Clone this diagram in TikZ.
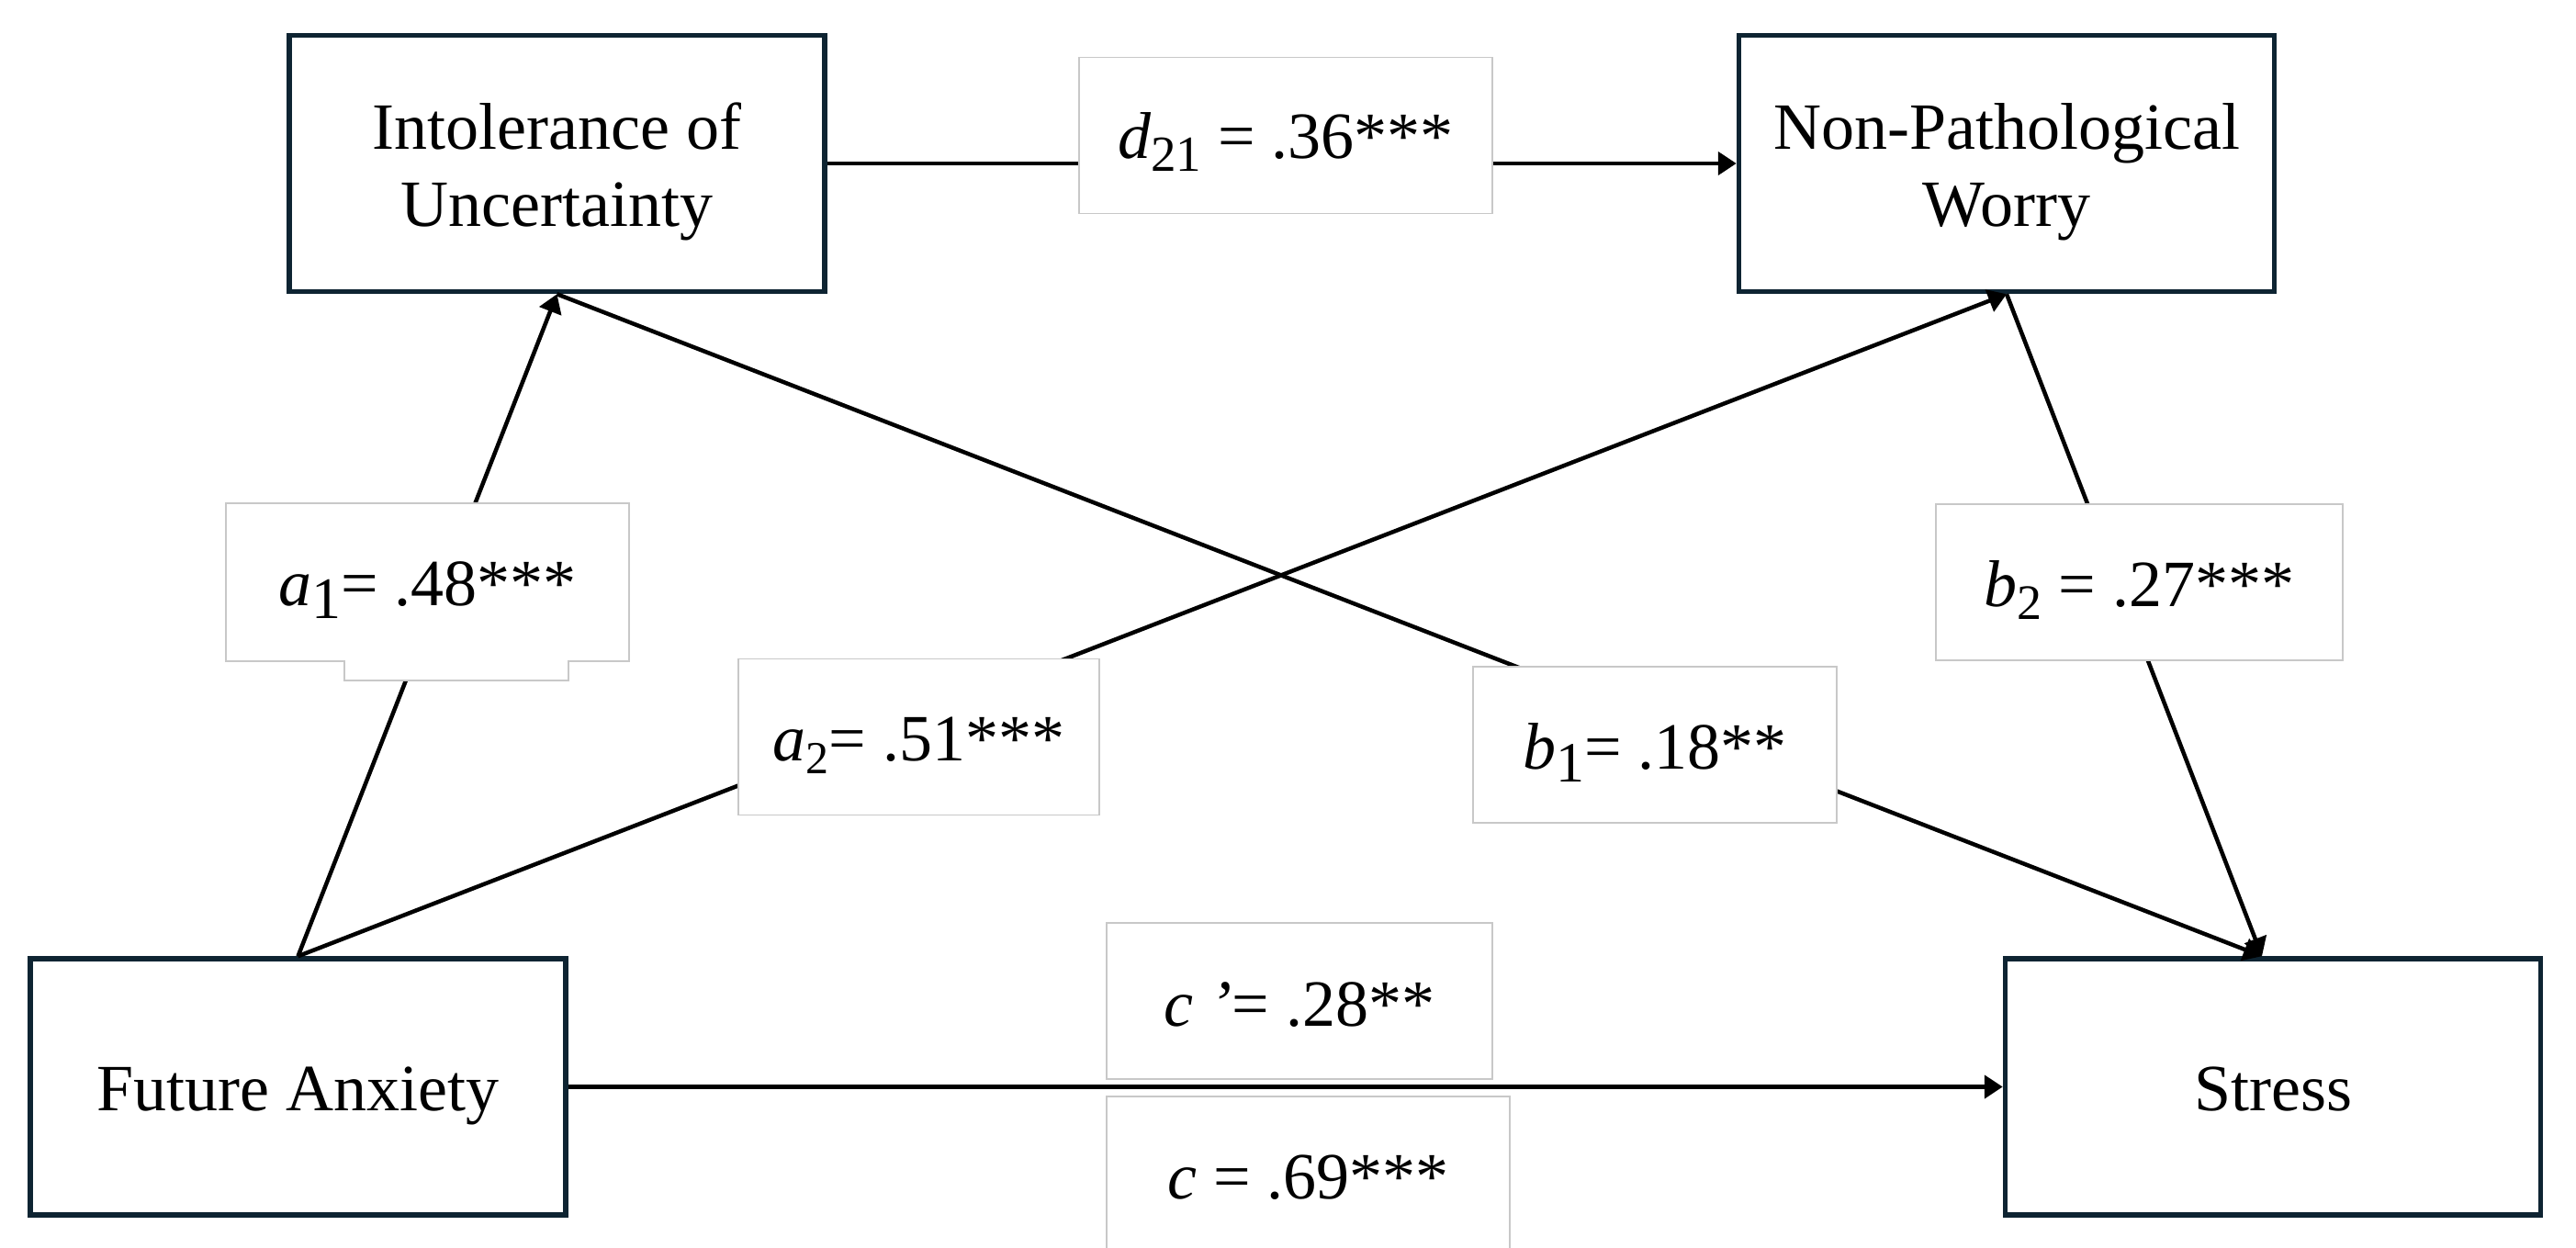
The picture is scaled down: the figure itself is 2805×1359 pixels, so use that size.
\documentclass[tikz,border=0pt]{standalone}
\usepackage{fontspec}
\setmainfont{Liberation Serif}
\usetikzlibrary{arrows.meta,calc}
\definecolor{navy}{RGB}{14,36,50}
\definecolor{lgray}{RGB}{200,200,200}
\newcommand\lsub[2]{\raisebox{-14pt}{\fontsize{#1}{#1}\selectfont #2}}
\begin{document}
\begin{tikzpicture}[x=1pt,y=-1pt,
  mainbox/.style={draw=navy, line width=5.5pt, fill=white, inner sep=0pt,
    minimum width=583pt, minimum height=279pt, align=center,
    font=\fontsize{72pt}{85pt}\selectfont},
  lbl/.style={draw=lgray, line width=1.5pt, fill=white, inner sep=0pt,
    minimum height=170pt, text height=51pt, text depth=0pt,
    font=\fontsize{72pt}{85pt}\selectfont},
  lblshape/.style={draw=lgray, line width=1.5pt, fill=white},
  conn/.style={line width=4.5pt, -{Triangle[length=20pt,width=25pt]}}]
\useasboundingbox[fill=white] (0,0) rectangle (2805,1359);

% main boxes
\node[mainbox, text height=138pt, text depth=0pt] (iu) at (606.5,178) {Intolerance of\\Uncertainty};
\node[mainbox, text height=138pt, text depth=0pt] (npw) at (2185,178) {Non-Pathological\\Worry};
\node[mainbox, text height=51pt, text depth=0pt] (fa) at (324.5,1183.5) {Future Anxiety};
\node[mainbox, text height=51pt, text depth=0pt] (st) at (2475,1183.5) {Stress};

\coordinate (sttop) at ($(st.north)+(-12,0)$);

% connectors
\draw[conn] (iu.east) -- (npw.west);
\draw[conn] (fa.north) -- (iu.south);
\draw[conn] (fa.north) -- (npw.south);
\draw[conn] (iu.south) -- (sttop);
\draw[conn] (npw.south) -- (sttop);
\draw[conn] (fa.east) -- (st.west);

% labels
\node[lbl, minimum width=450pt] (d21) at (1400,147.5) {\textit{d}\lsub{55pt}{21} = .36***};
\path[lblshape] (246,548) -- (685,548) -- (685,720) -- (619,720) -- (619,741)
  -- (375,741) -- (375,720) -- (246,720) -- cycle;
\node[lbl, draw=none, fill=none, minimum width=437pt, text height=50pt] (a1) at (465.5,634) {\textit{a}\lsub{64pt}{1}= .48***};
\node[lbl, minimum width=393pt] (a2) at (1000.5,802.5) {\textit{a}\lsub{50pt}{2}= .51***};
\node[lbl, minimum width=396pt, text height=52pt] (b1) at (1802,811) {\textit{b}\lsub{62pt}{1}= .18**};
\node[lbl, minimum width=443pt, text height=52pt] (b2) at (2329.5,634) {\textit{b}\lsub{54pt}{2} = .27***};
\node[lbl, minimum width=420pt, text height=54pt] (cp) at (1415,1090) {\textit{c ’}= .28**};
\node[lbl, minimum width=439pt, text height=52pt] (c) at (1424.5,1279) {\textit{c} = .69***};
\end{tikzpicture}
\end{document}
